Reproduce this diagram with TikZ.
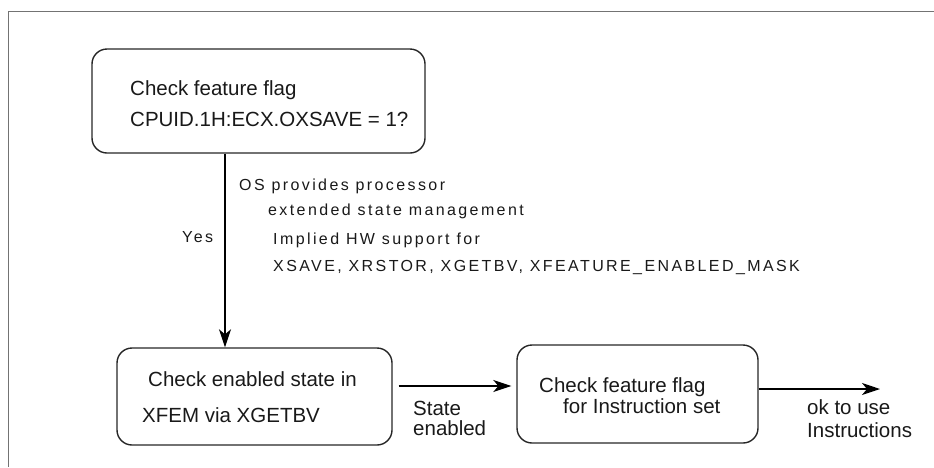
\documentclass[tikz,border=0pt]{standalone}
\usepackage{fontspec}
\setmainfont{Liberation Sans}
\newfontfamily\notefont[LetterSpace=15]{Liberation Sans}
\usetikzlibrary{arrows.meta}
\begin{document}
\begin{tikzpicture}[x=1pt,y=-1pt,
  box/.style={draw=black!85, line width=1.4pt, rounded corners=15pt, inner sep=0pt},
  txt/.style={anchor=base west, inner sep=0pt, text=black!90, font=\fontsize{20.5}{24}\selectfont},
  note/.style={anchor=base west, inner sep=0pt, text=black!90, font=\notefont\fontsize{16}{18}\selectfont},
  arr/.style={line width=1.4pt, -{Stealth[length=18pt,width=12pt,inset=5pt]}},
  frame/.style={draw=black!55, line width=1.6pt}]
\useasboundingbox (0,0) rectangle (934,467);

% open frame along the top and left
\draw[frame] (8.5,467) -- (8.5,11.5) -- (934,11.5);

% process boxes
\node[box, minimum width=333pt, minimum height=104pt] (top) at (258.5,101) {};
\node[box, minimum width=275pt, minimum height=97pt] (b1) at (254.5,396.5) {};
\node[box, minimum width=241pt, minimum height=98pt] (b2) at (637.5,394) {};

% box texts
\node[txt] (t1a) at (130,95) {Check feature flag};
\node[txt] (t1b) at (130,126) {CPUID.1H:ECX.OXSAVE = 1?};
\node[txt] (t2a) at (148,386) {Check enabled state in};
\node[txt] (t2b) at (142,422) {XFEM via XGETBV};
\node[txt] (t3a) at (539,392) {Check feature flag};
\node[txt] (t3b) at (563,413) {for Instruction set};

% edge labels
\node[txt] (se1) at (413,415) {State};
\node[txt] (se2) at (413,435) {enabled};
\node[txt] (ok1) at (807,414) {ok to use};
\node[txt] (ok2) at (807,437) {Instructions};
\node[note] (n1) at (239,190.7) {OS provides processor};
\node[note] (n2) at (268,215) {extended state management};
\node[note] (yes) at (182,242.7) {Yes};
\node[note] (n3) at (273,244) {Implied HW support for};
\node[note] (n4) at (273,271.7) {XSAVE, XRSTOR, XGETBV, XFEATURE\_ENABLED\_MASK};

% connectors
\coordinate (down) at ([xshift=-33.5pt]top.south);
\draw[arr] (down) -- (down |- b1.north);
\coordinate (s1) at ([yshift=10.5pt]b1.east);
\draw[arr, shorten <=6pt, shorten >=5pt] (s1) -- (s1 -| b2.west);
\coordinate (s2) at ([yshift=5pt]b2.east);
\coordinate (done) at (880,389);
\draw[arr] (s2) -- (done);
\end{tikzpicture}
\end{document}
